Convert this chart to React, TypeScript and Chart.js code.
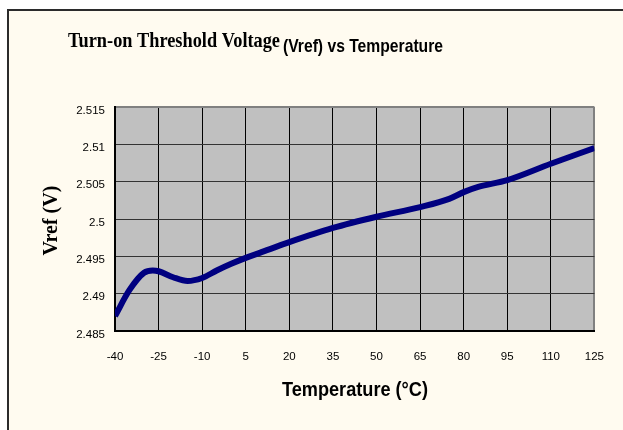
import React, { useEffect, useRef } from 'react';
import { Chart, registerables } from 'chart.js';

Chart.register(...registerables);

// ---- data ----
const temperatures = [-40, -35, -30, -27, -25, -20, -15, -10, -5, 0, 5, 10, 20, 35, 50, 65, 75, 80, 85, 95, 110, 125];
const vrefValues = [2.4870, 2.4905, 2.4928, 2.4931, 2.4930, 2.4922, 2.4917, 2.4921, 2.4931, 2.4940, 2.4948, 2.4955, 2.4969, 2.4988, 2.5003, 2.5016, 2.5027, 2.5036, 2.5043, 2.5052, 2.5074, 2.5095];
const xTickValues = [-40, -25, -10, 5, 20, 35, 50, 65, 80, 95, 110, 125];
const xTickLabels = ['-40', '-25', '-10', '5', '20', '35', '50', '65', '80', '95', '110', '125'];
const yTickValues = [2.485, 2.49, 2.495, 2.5, 2.505, 2.51, 2.515];
const yTickLabels = ['2.485', '2.49', '2.495', '2.5', '2.505', '2.51', '2.515'];
const titleSerif = 'Turn-on Threshold Voltage';
const titleSans = '(Vref) vs Temperature';
const xTitle = 'Temperature (°C)';
const yTitle = 'Vref (V)';

const SANS = '"Liberation Sans", Arial, sans-serif';
const SERIF = '"Liberation Serif", "Times New Roman", serif';

const decor = {
  id: 'decor',
  beforeDraw(chart: any) {
    const { ctx, chartArea: a, width, height } = chart;
    ctx.save();
    ctx.fillStyle = '#ffffff';
    ctx.fillRect(0, 0, width, height);
    ctx.fillStyle = '#fffbf0';
    ctx.fillRect(8, 11, width - 8, height - 11);
    ctx.fillStyle = '#2b2b2b';
    ctx.fillRect(7, 9, 2, height - 9);
    ctx.fillRect(7, 9, width - 7, 2);
    ctx.fillStyle = '#c0c0c0';
    ctx.fillRect(a.left, a.top, a.right - a.left, a.bottom - a.top);
    ctx.restore();
  },
  afterDraw(chart: any) {
    const { ctx } = chart;
    ctx.save();
    ctx.fillStyle = '#000000';
    ctx.textBaseline = 'alphabetic';
    ctx.textAlign = 'left';
    ctx.font = `bold 21px ${SERIF}`;
    ctx.fillText(titleSerif, 68, 47, 212);
    ctx.font = `bold 19px ${SANS}`;
    ctx.fillText(titleSans, 283, 52, 160);
    ctx.textAlign = 'center';
    ctx.font = `bold 20px ${SANS}`;
    ctx.fillText(xTitle, 355, 396, 146);
    ctx.translate(57, 220.5);
    ctx.rotate(-Math.PI / 2);
    ctx.font = `bold 20px ${SERIF}`;
    ctx.fillText(yTitle, 0, 0, 75);
    ctx.restore();
  },
};

export default function App() {
  const ref = useRef<HTMLCanvasElement | null>(null);
  useEffect(() => {
    if (!ref.current) return;
    const chart = new Chart(ref.current, {
      type: 'line',
      data: {
        datasets: [
          {
            data: temperatures.map((t, i) => ({ x: t, y: vrefValues[i] })),
            borderColor: '#000080',
            backgroundColor: '#000080',
            borderWidth: 6,
            pointRadius: 0,
            cubicInterpolationMode: 'monotone',
            clip: 0,
            fill: false,
          } as any,
        ],
      },
      options: {
        animation: false,
        responsive: false,
        devicePixelRatio: 1,
        layout: { padding: { top: 107, right: 28, left: 0, bottom: 0 } },
        plugins: { legend: { display: false }, tooltip: { enabled: false }, title: { display: false } },
        scales: {
          x: {
            type: 'linear',
            min: -40,
            max: 125,
            afterBuildTicks: (s: any) => {
              s.ticks = xTickValues.map((value) => ({ value }));
            },
            afterFit: (s: any) => {
              s.height = 99;
            },
            ticks: {
              callback: (_v: any, i: number) => xTickLabels[i],
              font: { family: SANS, size: 11.5 },
              color: '#000',
              padding: 19,
              maxRotation: 0,
              autoSkip: false,
            },
            grid: {
              color: (c: any) => (c.index === xTickValues.length - 1 ? '#808080' : '#000000'),
              lineWidth: (c: any) => (c.index === xTickValues.length - 1 ? 2 : 1),
              drawTicks: false,
            },
            border: { color: '#000000', width: 2 },
          },
          y: {
            type: 'linear',
            min: 2.485,
            max: 2.515,
            afterBuildTicks: (s: any) => {
              s.ticks = yTickValues.map((value) => ({ value }));
            },
            afterFit: (s: any) => {
              s.width = 115;
            },
            ticks: {
              callback: (_v: any, i: number) => yTickLabels[i],
              font: { family: SANS, size: 11.5 },
              color: '#000',
              padding: 10,
              labelOffset: 3.5,
            },
            grid: {
              color: (c: any) => (c.index === yTickValues.length - 1 ? '#808080' : '#333333'),
              lineWidth: (c: any) => (c.index === yTickValues.length - 1 ? 2 : 1),
              drawTicks: false,
            },
            border: { color: '#000000', width: 2 },
          },
        },
      } as any,
      plugins: [decor],
    });
    return () => chart.destroy();
  }, []);
  return (
    <canvas
      ref={ref}
      width={623}
      height={430}
      style={{ position: 'absolute', left: 0, top: 0, display: 'block' }}
    />
  );
}
